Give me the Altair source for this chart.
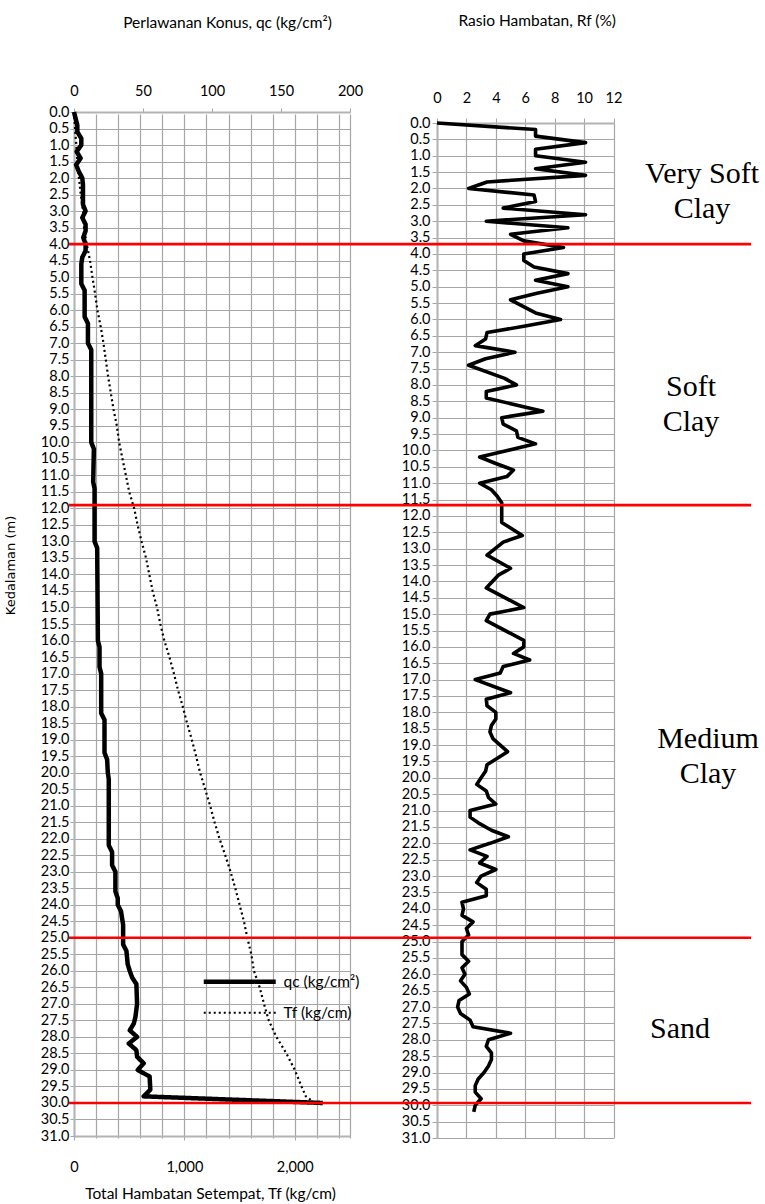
import altair as alt
import pandas as pd

# ---------------- data ----------------
qc_depth = [0.0, 0.2, 0.4, 0.6, 0.8, 1.0, 1.2, 1.4, 1.6, 1.8, 2.0, 2.2, 2.8, 3.0, 3.2, 3.4,
            3.6, 3.8, 4.0, 4.2, 4.4, 4.6, 5.2, 5.4, 6.2, 6.4, 7.0, 7.2, 10.0, 10.2, 11.2, 11.4,
            13.0, 13.2, 16.0, 16.2, 16.8, 17.0, 18.2, 18.4, 19.4, 19.6, 20.0, 20.2, 22.2, 22.4,
            22.8, 23.0, 23.6, 23.8, 24.0, 24.2, 24.4, 24.6, 25.2, 25.4, 25.8, 26.0, 26.2, 26.4,
            27.0, 27.4, 27.6, 27.8, 28.0, 28.2, 28.4, 28.6, 28.8, 29.0, 29.2, 29.6, 29.8, 30.0]
qc_value = [0.0, 1.2, 2.4, 2.4, 5.3, 5.3, 1.9, 4.8, 1.5, 3.5, 6.0, 6.5, 6.5, 8.4, 6.0, 8.4,
            8.4, 6.7, 8.4, 8.4, 6.0, 5.3, 5.3, 7.7, 7.7, 10.1, 10.1, 12.5, 12.5, 14.4, 13.9, 14.9,
            14.9, 16.8, 17.3, 18.5, 18.5, 19.7, 19.7, 22.1, 22.1, 24.0, 24.5, 25.2, 25.2, 27.6,
            27.6, 30.0, 30.0, 31.7, 31.7, 34.1, 34.8, 35.6, 35.6, 38.0, 38.9, 40.4, 42.1, 45.2,
            45.7, 44.5, 43.3, 40.4, 45.7, 39.7, 45.2, 45.7, 50.5, 46.2, 54.8, 55.3, 50.5, 180.3]

tf_depth = [0.0, 0.5, 1.0, 1.5, 2.0, 2.5, 3.0, 3.5, 4.0, 4.5, 5.0, 5.5, 6.0, 6.5, 7.0, 7.5,
            8.0, 8.5, 9.0, 9.5, 10.0, 10.5, 11.0, 11.5, 12.0, 12.5, 13.0, 13.5, 14.0, 14.5,
            15.0, 15.5, 16.0, 16.5, 17.0, 17.5, 18.0, 18.5, 19.0, 19.5, 20.0, 20.5, 21.0, 21.5,
            22.0, 22.5, 23.0, 23.5, 24.0, 24.5, 25.0, 25.5, 26.0, 26.5, 27.0, 27.5, 28.0, 28.5,
            29.0, 29.5, 29.8, 30.0]
tf_value = [0, 9, 21, 30, 45, 61, 82, 91, 115, 145, 167, 191, 212, 242, 267, 288,
            309, 333, 358, 388, 409, 439, 470, 500, 545, 576, 612, 652, 682, 712,
            752, 782, 818, 864, 905, 942, 985, 1024, 1067, 1106, 1142, 1188, 1233, 1273,
            1318, 1370, 1418, 1461, 1500, 1539, 1570, 1606, 1630, 1682, 1721, 1764, 1833, 1924,
            2000, 2061, 2100, 2180]

rf_depth = [0.0, 0.2, 0.4, 0.6, 0.8, 1.0, 1.2, 1.4, 1.6, 1.8, 2.0, 2.2, 2.4, 2.6, 2.8, 3.0,
            3.2, 3.4, 3.6, 3.8, 4.0, 4.2, 4.4, 4.6, 4.8, 5.0, 5.2, 5.4, 5.8, 6.0, 6.2, 6.4,
            6.6, 6.8, 7.0, 7.2, 7.4, 7.8, 8.0, 8.2, 8.4, 8.8, 9.0, 9.2, 9.4, 9.6, 9.8, 10.2,
            10.4, 10.6, 10.8, 11.0, 11.2, 11.4, 11.6, 12.2, 12.6, 12.8, 13.2, 13.6, 13.8, 14.2,
            14.8, 15.0, 15.2, 15.8, 16.0, 16.2, 16.4, 16.6, 16.8, 17.0, 17.4, 17.6, 17.8, 18.0,
            18.2, 18.4, 18.6, 18.8, 19.2, 19.6, 19.8, 20.0, 20.2, 20.4, 20.6, 20.8, 21.0, 21.2,
            21.4, 21.6, 21.8, 22.0, 22.2, 22.4, 22.6, 22.8, 23.0, 23.2, 23.4, 23.6, 23.8, 24.0,
            24.2, 24.4, 24.6, 24.8, 25.0, 25.4, 25.6, 25.8, 26.0, 26.2, 26.4, 26.6, 26.8, 27.0,
            27.2, 27.4, 27.6, 27.8, 28.0, 28.2, 28.4, 28.6, 28.8, 29.0, 29.2, 29.4, 29.6, 29.8,
            30.0, 30.2]
rf_value = [0.0, 6.7, 6.7, 10.1, 6.7, 6.7, 10.1, 6.7, 10.1, 3.4, 2.15, 6.6, 6.7, 4.5, 10.1, 3.35,
            8.9, 5.0, 5.9, 8.6, 5.9, 5.9, 6.6, 8.9, 6.7, 8.9, 6.8, 5.0, 6.7, 8.4, 6.0, 3.4,
            3.3, 2.6, 5.3, 3.3, 2.15, 4.6, 5.4, 3.35, 3.35, 7.2, 4.4, 4.5, 5.4, 5.5, 6.7, 2.9,
            4.0, 5.2, 4.75, 2.9, 3.7, 4.1, 4.4, 4.4, 5.8, 4.5, 3.4, 5.0, 4.2, 3.35,
            5.9, 3.6, 3.35, 5.9, 5.9, 5.2, 6.3, 4.5, 4.3, 2.6, 5.0, 3.35, 3.4, 4.0,
            4.0, 3.7, 3.6, 3.8, 4.8, 3.4, 3.3, 3.0, 2.7, 3.35, 3.5, 4.0, 2.25, 2.25,
            2.9, 3.7, 4.85, 3.6, 2.25, 3.4, 2.9, 4.0, 3.0, 2.7, 3.35, 3.35, 1.7, 1.8,
            1.7, 2.45, 2.0, 2.15, 1.7, 1.7, 2.15, 1.7, 1.9, 1.6, 2.0, 2.2, 1.5, 1.4,
            1.6, 2.25, 2.45, 5.0, 3.5, 3.35, 3.7, 3.7, 3.5, 3.2, 2.8, 2.6, 2.6, 3.0,
            2.6, 2.5]

boundary_depth = [4.0, 11.9, 25.0, 30.0]
soil_labels = ["Very Soft\nClay", "Soft\nClay", "Medium\nClay", "Sand"]
soil_depth = [1.88, 8.33, 18.99, 27.75]

depth_ticks = [0.0, 0.5, 1.0, 1.5, 2.0, 2.5, 3.0, 3.5, 4.0, 4.5, 5.0, 5.5, 6.0, 6.5, 7.0, 7.5,
               8.0, 8.5, 9.0, 9.5, 10.0, 10.5, 11.0, 11.5, 12.0, 12.5, 13.0, 13.5, 14.0, 14.5,
               15.0, 15.5, 16.0, 16.5, 17.0, 17.5, 18.0, 18.5, 19.0, 19.5, 20.0, 20.5, 21.0, 21.5,
               22.0, 22.5, 23.0, 23.5, 24.0, 24.5, 25.0, 25.5, 26.0, 26.5, 27.0, 27.5, 28.0, 28.5,
               29.0, 29.5, 30.0, 30.5, 31.0]
qc_ticks = [0, 50, 100, 150, 200]
tf_grid = [0, 200, 400, 600, 800, 1000, 1200, 1400, 1600, 1800, 2000, 2200, 2400, 2500]
tf_labels = [0, 1000, 2000]
rf_ticks = [0, 2, 4, 6, 8, 10, 12]
series_names = ["qc (kg/cm²)", "Tf (kg/cm)"]

# ---------------- layout ----------------
W, H = 677, 1026
LW, LH = 276, 1024
RX0, RX1 = 363, 539.5
RY0, RY1 = 11, 1026

FONT = "Lato"
SERIF = "Liberation Serif"
GRID = "#a6a6a6"
DOMAIN = "#b3b3b3"

common_axis = dict(labelFont=FONT, labelFontSize=14.5, labelColor="black",
                   tickColor=GRID, domainColor=DOMAIN, domainWidth=2, gridColor=GRID,
                   gridWidth=1.2, labelOverlap=False, labelFlush=False,
                   titleFontWeight="normal", titleColor="black")

left_depth_scale = alt.Scale(domain=[0, 31], range=[0, LH], nice=False, zero=False)
right_depth_scale = alt.Scale(domain=[0, 31], range=[RY0, RY1], nice=False, zero=False)
qc_scale = alt.Scale(domain=[0, 200], range=[0, LW], nice=False)
tf_scale = alt.Scale(domain=[0, 2500], range=[0, LW], nice=False)
rf_scale = alt.Scale(domain=[0, 12], range=[RX0, RX1], nice=False)

dash_scale = alt.Scale(domain=series_names, range=[[1, 0], [2, 3]])
width_scale = alt.Scale(domain=series_names, range=[4.5, 2.2])
legend = alt.Legend(orient="none", legendX=158, legendY=862, title=None,
                    symbolType="M-7.2,0H7.2", symbolSize=100, symbolStrokeColor="black",
                    labelFont=FONT, labelFontSize=15.5, labelColor="black", labelOffset=36,
                    rowPadding=14, symbolOpacity=1)

qc_df = pd.DataFrame({"depth": qc_depth, "qc": qc_value, "series": series_names[0],
                      "ord": list(range(len(qc_depth)))})
tf_df = pd.DataFrame({"depth": tf_depth, "tf": tf_value, "series": series_names[1],
                      "ord": list(range(len(tf_depth)))})
rf_df = pd.DataFrame({"depth": rf_depth, "rf": rf_value, "ord": list(range(len(rf_depth)))})
bd_df = pd.DataFrame({"depth": boundary_depth})

qc_line = alt.Chart(qc_df).mark_line(color="black", strokeJoin="round").encode(
    x=alt.X("qc:Q", scale=qc_scale,
            axis=alt.Axis(orient="top", values=qc_ticks, grid=False, tickSize=4, labelPadding=10,
                          title="Perlawanan Konus, qc (kg/cm²)", titleFont=FONT, titleFontSize=15.5,
                          titleX=153, titleY=-90, titleAlign="center", titleBaseline="middle",
                          **common_axis)),
    y=alt.Y("depth:Q", scale=left_depth_scale,
            axis=alt.Axis(orient="left", values=depth_ticks, format=".1f", grid=True, tickSize=4,
                          labelPadding=1, title="Kedalaman (m)", titleFont="DejaVu Sans",
                          titleFontSize=13, titleX=-64, titleY=453, titleAngle=270,
                          titleAlign="center", titleBaseline="middle",
                          **common_axis)),
    order="ord:Q",
    strokeDash=alt.StrokeDash("series:N", scale=dash_scale, legend=legend),
    strokeWidth=alt.StrokeWidth("series:N", scale=width_scale, legend=legend),
)

tf_line = alt.Chart(tf_df).mark_line(color="black").encode(
    x=alt.X("tf:Q", scale=tf_scale,
            axis=alt.Axis(orient="bottom", values=tf_grid, grid=True, tickSize=4, labelPadding=20,
                          offset=-2,
                          labelExpr="indexof([0,1000,2000], datum.value) >= 0 ? format(datum.value, ',') : ''",
                          tickOpacity={"condition": {"test": "indexof([0,1000,2000], datum.value) >= 0", "value": 1}, "value": 0},
                          title="Total Hambatan Setempat, Tf (kg/cm)", titleFont=FONT, titleFontSize=15.5,
                          titleX=136, titleY=57, titleAlign="center", titleBaseline="middle",
                          **common_axis)),
    y=alt.Y("depth:Q", scale=left_depth_scale, axis=None),
    order="ord:Q",
    strokeDash=alt.StrokeDash("series:N", scale=dash_scale, legend=legend),
    strokeWidth=alt.StrokeWidth("series:N", scale=width_scale, legend=legend),
)

rf_line = alt.Chart(rf_df).mark_line(color="black", strokeWidth=3.6, strokeJoin="round").encode(
    x=alt.X("rf:Q", scale=rf_scale,
            axis=alt.Axis(orient="top", values=rf_ticks, grid=True, tickSize=5, labelPadding=13,
                          offset=-RY0,
                          title="Rasio Hambatan, Rf (%)", titleFont=FONT, titleFontSize=15.5,
                          titleX=462.7, titleY=-103, titleAlign="center", titleBaseline="middle",
                          **common_axis)),
    y=alt.Y("depth:Q", scale=right_depth_scale,
            axis=alt.Axis(orient="left", values=depth_ticks, format=".1f", grid=True, tickSize=5,
                          labelPadding=2, offset=-RX0, title=None, **common_axis)),
    order="ord:Q",
)

red_lines = alt.Chart(bd_df).mark_rule(color="#ff0000", strokeWidth=2.6).encode(
    y=alt.Y("depth:Q", scale=left_depth_scale, axis=None),
    x=alt.value(-5),
    x2=alt.value(W),
)

soil_x = [628, 617, 634, 606]
soil_layers = []
for lab, dep, px in zip(soil_labels, soil_depth, soil_x):
    sdf = pd.DataFrame({"depth": [dep], "label": [lab]})
    soil_layers.append(
        alt.Chart(sdf).mark_text(font=SERIF, fontSize=30, lineBreak="\n",
                                 lineHeight=35, align="center", baseline="middle",
                                 color="black").encode(
            y=alt.Y("depth:Q", scale=left_depth_scale, axis=None),
            x=alt.value(px),
            text="label:N",
        )
    )

chart = alt.layer(qc_line, tf_line, rf_line, red_lines, *soil_layers).resolve_scale(
    x="independent", y="independent"
).properties(
    width=W, height=H,
    autosize=alt.AutoSizeParams(type="none"),
    padding={"left": 74, "top": 112, "right": 14, "bottom": 66},
    background="white",
).configure_view(stroke=None)

chart.save("out.html", embed_options={"renderer": "svg", "actions": False})
